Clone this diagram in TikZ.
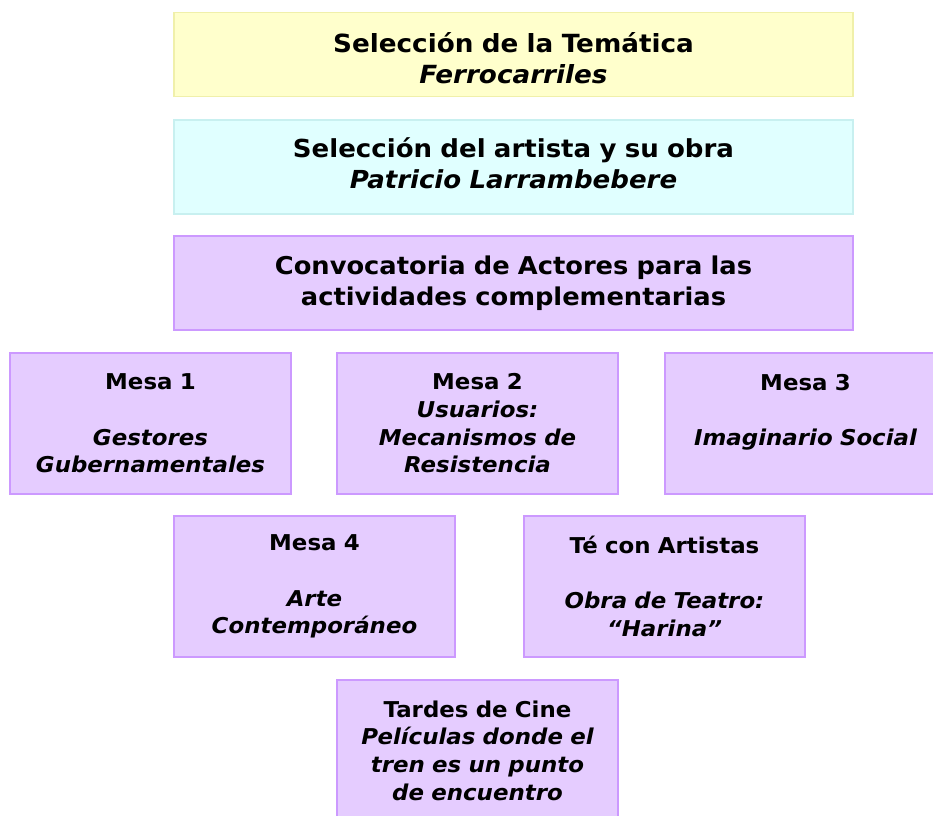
\documentclass[tikz,border=0pt]{standalone}
\usepackage{fontspec}
\setmainfont{DejaVu Sans}[FakeStretch=1.05]
\definecolor{amarillo}{RGB}{255,255,204}
\definecolor{amarilloborde}{RGB}{240,240,170}
\definecolor{celeste}{RGB}{224,255,255}
\definecolor{celesteborde}{RGB}{200,240,240}
\definecolor{lila}{RGB}{229,204,255}
\definecolor{lilaborde}{RGB}{204,153,255}
\tikzset{
  caja/.style={draw,line width=1.5pt,inner sep=0pt,align=center,font=\bfseries},
  ancha/.style={caja,minimum width=679pt,minimum height=94pt},
  texto/.style={inner sep=0pt,align=center,text width=670pt,font=\bfseries\fontsize{25}{31}\selectfont},
  mesa/.style={caja,fill=lila,draw=lilaborde,minimum width=281pt,minimum height=141pt,text width=279pt,
    font=\bfseries\fontsize{21.8}{27.7}\selectfont}
}
\begin{document}
\begin{tikzpicture}[x=1pt,y=-1pt]
  \useasboundingbox (0,0) rectangle (933,815);
  \clip (0,0) rectangle (933,815);
  \node[ancha,fill=amarillo,draw=amarilloborde,minimum height=84pt] (tematica) at (513.5,54.5) {};
  \node[texto] (tematicatxt) at ([yshift=-4pt]tematica.center) {Selección de la Temática\\\itshape Ferrocarriles};
  \node[ancha,fill=celeste,draw=celesteborde] (artista) at (513.5,167) {};
  \node[texto,font=\bfseries\fontsize{24.8}{31}\selectfont] (artistatxt) at ([yshift=4pt]artista.center)
    {Selección del artista y su obra\\\itshape Patricio Larrambebere};
  \node[ancha,fill=lila,draw=lilaborde] (convocatoria) at (513.5,283) {};
  \node[texto,font=\bfseries\fontsize{24.5}{31}\selectfont] (convocatoriatxt) at (convocatoria.center)
    {Convocatoria de Actores para las\\actividades complementarias};
  \node[mesa] (mesa1) at (150.5,423.5) {Mesa 1\\[27.7pt]\itshape Gestores\\\itshape Gubernamentales};
  \node[mesa] (mesa2) at (477.5,423.5) {Mesa 2\\\itshape Usuarios:\\\itshape Mecanismos de\\\itshape Resistencia};
  \node[mesa] (mesa3) at (805.5,423.5) {Mesa 3\\[27.7pt]\itshape Imaginario Social\\\mbox{}};
  \node[mesa] (mesa4) at (314.5,586.5) {Mesa 4\\[27.7pt]\itshape Arte\\\itshape Contemporáneo};
  \node[mesa] (te) at (664.5,586.5) {Té con Artistas\\[27.7pt]\itshape Obra de Teatro:\\\itshape “Harina”};
  \node[mesa] (cine) at (477.5,750.5) {Tardes de Cine\\\itshape Películas donde el\\\itshape tren es un punto\\\itshape de encuentro};
\end{tikzpicture}
\end{document}
